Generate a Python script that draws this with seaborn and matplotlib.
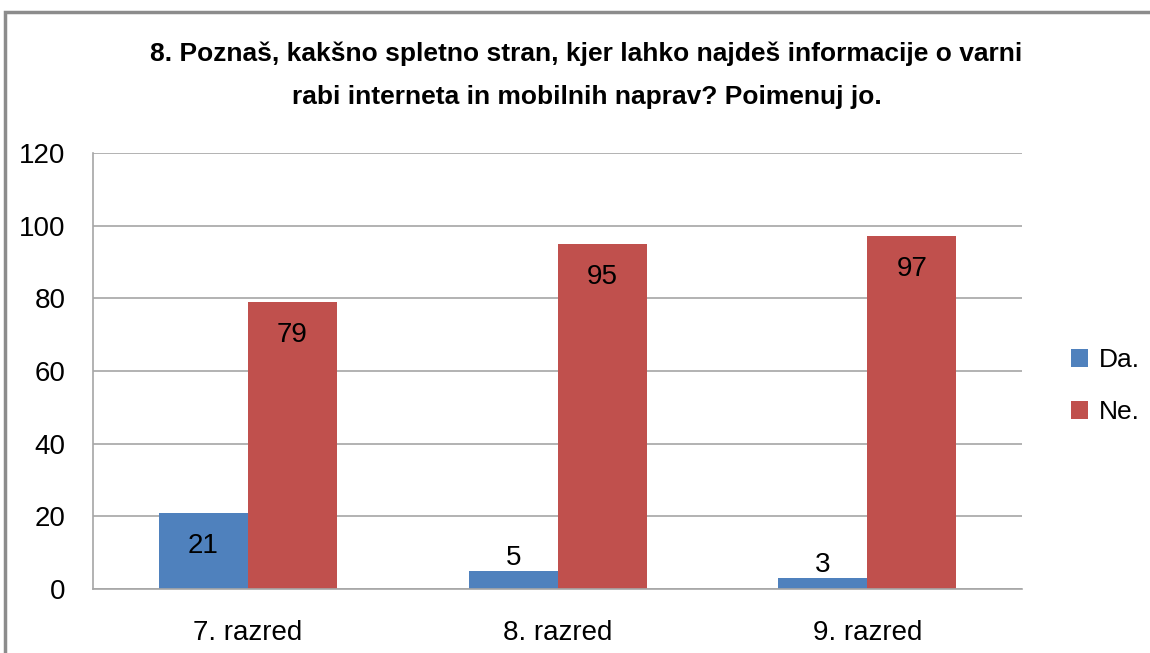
import matplotlib
matplotlib.use("Agg")
import matplotlib.pyplot as plt
import seaborn as sns
import pandas as pd
from matplotlib.patches import Rectangle
from matplotlib import font_manager

categories = ["7. razred", "8. razred", "9. razred"]
series_names = ["Da.", "Ne."]
da_values = [21, 5, 3]
ne_values = [79, 95, 97]
y_ticks = [0, 20, 40, 60, 80, 100, 120]
title = "8. Poznaš, kakšno spletno stran, kjer lahko najdeš informacije o varni\nrabi interneta in mobilnih naprav? Poimenuj jo."

df = pd.DataFrame({
    "razred": categories * 2,
    "odgovor": [series_names[0]] * 3 + [series_names[1]] * 3,
    "vrednost": da_values + ne_values,
})

sns.set_theme(style="white")
names = {f.name for f in font_manager.fontManager.ttflist}
fam = "Liberation Sans Narrow" if "Liberation Sans Narrow" in names else "Liberation Sans"
plt.rcParams["font.family"] = [fam, "DejaVu Sans"]
plt.rcParams["text.color"] = "black"

fig = plt.figure(figsize=(11.5, 6.53), dpi=100)
ax = fig.add_axes([0.0809, 0.098, 0.808, 0.668])

palette = {"Da.": "#4F81BD", "Ne.": "#C0504D"}
sns.barplot(data=df, x="razred", y="vrednost", hue="odgovor", palette=palette,
            width=0.575, ax=ax, saturation=1, legend=True, linewidth=0)

ax.set_ylim(0, 120)
ax.set_yticks(y_ticks)
ax.set_xlim(-0.5, 2.5)
ax.yaxis.grid(True, color="#A6A6A6", linewidth=1.2)
ax.set_axisbelow(True)
for s in ["top", "right"]:
    ax.spines[s].set_visible(False)
for s in ["left", "bottom"]:
    ax.spines[s].set_color("#A6A6A6")
    ax.spines[s].set_linewidth(1.2)
ax.set_xlabel("")
ax.set_ylabel("")
ax.tick_params(axis="both", labelsize=20, colors="black", length=0)
ax.tick_params(axis="y", pad=20)
ax.tick_params(axis="x", pad=22)

for cont in ax.containers:
    vals = list(cont.datavalues)
    inside = [f"{int(v)}" if v >= 10 else "" for v in vals]
    above = [f"{int(v)}" if v < 10 else "" for v in vals]
    ax.bar_label(cont, labels=inside, label_type="edge", padding=-33, fontsize=20, color="black")
    ax.bar_label(cont, labels=above, label_type="edge", padding=0, fontsize=20, color="black")

leg = ax.legend(loc="center left", bbox_to_anchor=(1.027, 0.465), frameon=False,
                fontsize=19, handlelength=0.65, handleheight=0.65, handletextpad=0.4,
                labelspacing=1.05, borderpad=0.4, borderaxespad=0.5)

fig.text(0.51, 0.885, title, ha="center", va="center", fontsize=19, fontweight="bold",
         linespacing=2.0, color="black")

fig.patches.append(Rectangle((5 / 1150, -0.1), 1.2, 1 - 12 / 653 + 0.1, transform=fig.transFigure,
                             fill=False, edgecolor="#8C8C8C", linewidth=2.5))

fig.savefig("out.png", dpi=100)
